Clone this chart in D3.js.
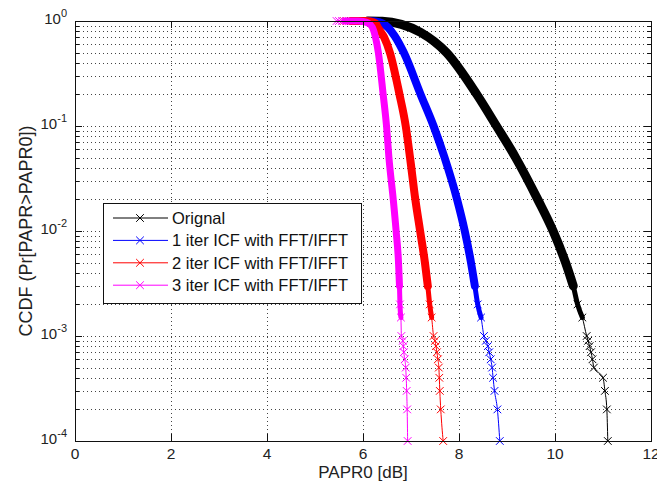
<!DOCTYPE html>
<html>
<head>
<meta charset="utf-8">
<script src="https://cdn.jsdelivr.net/npm/d3@7"></script>
<style>
  body { margin: 0; background: #fff; }
  svg { display: block; font-family: "Liberation Sans", Arial, sans-serif; }
</style>
</head>
<body>
<svg id="chart"></svg>
<script>
// values: PAPR0 [dB] and CCDF per curve
const orignalX = [5.9, 6.1, 6.4, 6.8, 7.2, 7.74, 8.37, 8.78, 9.18, 9.64, 9.96, 10.22, 10.38, 10.47, 10.57, 10.66, 10.69, 10.72, 10.75, 10.78, 10.81, 11.0, 11.04, 11.08, 11.1];
const orignalP = [1, 0.9995, 0.995, 0.93, 0.78, 0.5, 0.2, 0.1, 0.05, 0.02, 0.01, 0.005, 0.003, 0.002, 0.0015, 1e-3, 9e-4, 8e-4, 7e-4, 6e-4, 5e-4, 4e-4, 3e-4, 2e-4, 1e-4];

const iter1X = [5.75, 5.82, 6.1, 6.25, 6.4, 6.52, 6.66, 6.85, 7.2, 7.47, 7.7, 7.96, 8.12, 8.25, 8.33, 8.39, 8.46, 8.52, 8.56, 8.6, 8.63, 8.66, 8.69, 8.71, 8.74, 8.8, 8.85];
const iter1P = [1, 0.9998, 0.998, 0.99, 0.95, 0.87, 0.72, 0.5, 0.2, 0.1, 0.05, 0.02, 0.01, 0.005, 0.003, 0.002, 0.0015, 1e-3, 9e-4, 8e-4, 7e-4, 6e-4, 5e-4, 4e-4, 3e-4, 2e-4, 1e-4];

const iter2X = [5.6, 5.66, 5.75, 6.05, 6.15, 6.26, 6.32, 6.44, 6.56, 6.76, 6.89, 6.98, 7.09, 7.19, 7.29, 7.35, 7.39, 7.43, 7.47, 7.5, 7.52, 7.54, 7.56, 7.58, 7.59, 7.6, 7.62, 7.67];
const iter2P = [1, 1, 0.9998, 0.998, 0.99, 0.95, 0.85, 0.7, 0.5, 0.2, 0.1, 0.05, 0.02, 0.01, 0.005, 0.003, 0.002, 0.0015, 1e-3, 9e-4, 8e-4, 7e-4, 6e-4, 5e-4, 4e-4, 3e-4, 2e-4, 1e-4];

const iter3X = [5.45, 5.5, 5.56, 5.62, 5.9, 6.0, 6.1, 6.19, 6.26, 6.32, 6.42, 6.49, 6.54, 6.63, 6.69, 6.74, 6.76, 6.77, 6.79, 6.8, 6.83, 6.84, 6.85, 6.87, 6.89, 6.9, 6.91, 6.92, 6.93];
const iter3P = [1, 1, 1, 0.9998, 0.998, 0.99, 0.96, 0.88, 0.7, 0.5, 0.2, 0.1, 0.05, 0.02, 0.01, 0.005, 0.003, 0.002, 0.0015, 1e-3, 9e-4, 8e-4, 7e-4, 6e-4, 5e-4, 4e-4, 3e-4, 2e-4, 1e-4];

const seriesNames = ["Orignal", "1 iter ICF with FFT/IFFT", "2 iter ICF with FFT/IFFT", "3 iter ICF with FFT/IFFT"];
const seriesColors = ["#000000", "#0000ff", "#ff0000", "#ff00ff"];
const bandWidths = [9, 8, 8, 7];

const xTicks = [0, 2, 4, 6, 8, 10, 12];
const yExponents = [0, -1, -2, -3, -4];

const width = 657, height = 489;
const plotL = 75, plotR = 651, plotT = 21, plotB = 441;

const svg = d3.select("#chart").attr("width", width).attr("height", height);

const x = d3.scaleLinear().domain([0, 12]).range([plotL, plotR]);
const y = d3.scaleLog().domain([1e-4, 1]).range([plotB, plotT]);

// grid (dotted), minor on the log axis
const grid = svg.append("g")
  .attr("stroke", "#444")
  .attr("stroke-width", 1)
  .attr("stroke-dasharray", "1,3");

grid.selectAll(".gx")
  .data(xTicks.slice(1, -1))
  .join("line")
  .attr("x1", d => x(d) + 0.5).attr("x2", d => x(d) + 0.5)
  .attr("y1", plotT).attr("y2", plotB);

const yGridVals = y.ticks().filter(d => d > 1e-4 && d < 1);
grid.selectAll(".gy")
  .data(yGridVals)
  .join("line")
  .attr("x1", plotL).attr("x2", plotR)
  .attr("y1", d => Math.round(y(d)) + 0.5).attr("y2", d => Math.round(y(d)) + 0.5);

// curves
const series = [
  {xs: orignalX, ps: orignalP},
  {xs: iter1X, ps: iter1P},
  {xs: iter2X, ps: iter2P},
  {xs: iter3X, ps: iter3P}
].map((s, i) => ({
  name: seriesNames[i],
  color: seriesColors[i],
  band: bandWidths[i],
  pts: s.xs.map((v, j) => ({x: v, p: s.ps[j]}))
}));

const line = d3.line()
  .x(d => x(d.x))
  .y(d => y(d.p))
  .curve(d3.curveMonotoneX);

const marker = d3.symbol().type(d3.symbolTimes).size(40);

const curves = svg.append("g").attr("fill", "none");

series.forEach(s => {
  const g = curves.append("g");
  // thin line through every point
  g.append("path")
    .attr("d", line(s.pts))
    .attr("stroke", s.color)
    .attr("stroke-width", 1);
  // dense marker band
  g.append("path")
    .attr("d", line(s.pts.filter(d => d.p < 1 && d.p >= 0.003)))
    .attr("stroke", s.color)
    .attr("stroke-width", s.band)
    .attr("stroke-linecap", "round")
    .attr("stroke-linejoin", "round");
  g.append("path")
    .attr("d", line(s.pts.filter(d => d.p <= 0.005 && d.p >= 0.0015)))
    .attr("stroke", s.color)
    .attr("stroke-width", 5)
    .attr("stroke-linecap", "round");
  // x markers where the samples are sparse
  g.selectAll(".m")
    .data(s.pts.filter(d => d.p === 1 || d.p < 0.0025))
    .join("path")
    .attr("transform", d => `translate(${x(d.x)},${y(d.p)})`)
    .attr("d", marker)
    .attr("stroke", s.color)
    .attr("stroke-width", 1);
});

// axes box and ticks
const axes = svg.append("g").attr("stroke", "#111").attr("stroke-width", 1);
axes.append("rect")
  .attr("x", plotL + 0.5).attr("y", plotT + 0.5)
  .attr("width", plotR - plotL).attr("height", plotB - plotT)
  .attr("fill", "none");

axes.selectAll(".tx")
  .data(xTicks.slice(1, -1))
  .join(enter => {
    const g = enter.append("g");
    g.append("line").attr("x1", d => x(d) + 0.5).attr("x2", d => x(d) + 0.5)
      .attr("y1", plotB).attr("y2", plotB - 7);
    g.append("line").attr("x1", d => x(d) + 0.5).attr("x2", d => x(d) + 0.5)
      .attr("y1", plotT).attr("y2", plotT + 7);
    return g;
  });

const yTickVals = y.ticks().filter(d => d > 1e-4 && d < 1);
axes.selectAll(".ty")
  .data(yTickVals)
  .join(enter => {
    const g = enter.append("g");
    const len = d => (Math.abs(Math.log10(d) - Math.round(Math.log10(d))) < 1e-9 ? 7 : 4);
    g.append("line").attr("x1", plotL).attr("x2", d => plotL + len(d))
      .attr("y1", d => Math.round(y(d)) + 0.5).attr("y2", d => Math.round(y(d)) + 0.5);
    g.append("line").attr("x1", plotR).attr("x2", d => plotR - len(d))
      .attr("y1", d => Math.round(y(d)) + 0.5).attr("y2", d => Math.round(y(d)) + 0.5);
    return g;
  });

// tick labels
svg.append("g")
  .attr("fill", "#222")
  .attr("font-size", 15.5)
  .attr("text-anchor", "middle")
  .selectAll("text")
  .data(xTicks)
  .join("text")
  .attr("x", d => x(d))
  .attr("y", 459)
  .text(d => d);

const yl = svg.append("g")
  .attr("fill", "#222")
  .attr("font-size", 15)
  .attr("text-anchor", "end")
  .selectAll("text")
  .data(yExponents)
  .join("text")
  .attr("x", 67)
  .attr("y", d => y(Math.pow(10, d)) + 3);
yl.append("tspan").text("10");
yl.append("tspan").attr("dy", -7).attr("font-size", 11).text(d => d);

// axis labels
svg.append("text")
  .attr("x", (plotL + plotR) / 2)
  .attr("y", 478)
  .attr("text-anchor", "middle")
  .attr("font-size", 17)
  .attr("fill", "#222")
  .text("PAPR0 [dB]");

svg.append("text")
  .attr("transform", `translate(32,${(plotT + plotB) / 2}) rotate(-90)`)
  .attr("text-anchor", "middle")
  .attr("font-size", 18)
  .attr("fill", "#222")
  .text("CCDF (Pr[PAPR>PAPR0])");

// legend
const legend = svg.append("g");
legend.append("rect")
  .attr("x", 103.5).attr("y", 203.5)
  .attr("width", 258).attr("height", 100)
  .attr("fill", "#fff")
  .attr("stroke", "#111");

const rows = legend.selectAll(".row")
  .data(series)
  .join("g")
  .attr("transform", (d, i) => `translate(0,${218 + i * 22.4})`);
rows.append("line")
  .attr("x1", 113).attr("x2", 168)
  .attr("stroke", d => d.color);
rows.append("path")
  .attr("transform", "translate(140,0)")
  .attr("d", marker)
  .attr("fill", "none")
  .attr("stroke", d => d.color);
rows.append("text")
  .attr("x", 172)
  .attr("y", 6)
  .attr("font-size", 16.5)
  .attr("fill", "#111")
  .text(d => d.name);
</script>
</body>
</html>
